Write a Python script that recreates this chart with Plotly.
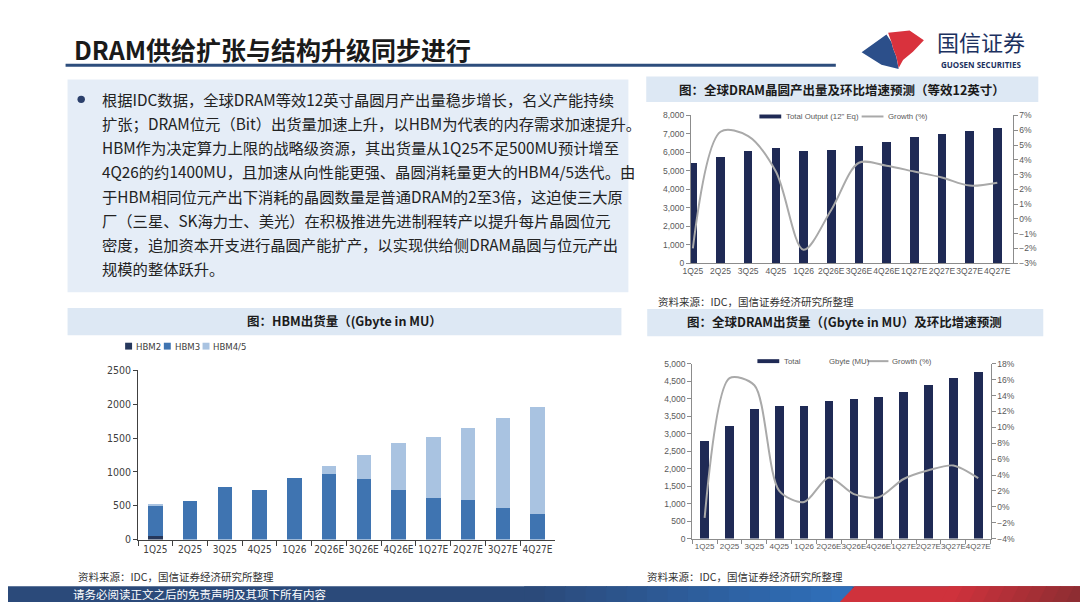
import plotly.graph_objects as go

W, H = 1080, 608

# ---- data ----
quarters = ["1Q25", "2Q25", "3Q25", "4Q25", "1Q26", "2Q26E",
            "3Q26E", "4Q26E", "1Q27E", "2Q27E", "3Q27E", "4Q27E"]

# global DRAM wafer output (12" eq) and QoQ growth %
wafer_output = [5430, 5730, 6050, 6230, 6100, 6140, 6370, 6580, 6810, 6990, 7170, 7340]
wafer_growth = [-2.0, 5.9, 5.6, 3.2, -2.1, 0.6, 3.8, 3.6, 3.2, 2.8, 2.25, 2.45]

# HBM shipments (Gbyte in MU)
hbm2 = [48, 0, 0, 0, 0, 0, 0, 0, 0, 0, 0, 0]
hbm3 = [449, 569, 777, 738, 907, 975, 888, 729, 618, 584, 473, 376]
hbm45 = [12, 0, 0, 0, 0, 111, 362, 695, 893, 1071, 1327, 1583]

# global DRAM shipments (Gbyte in MU) and QoQ growth %
dram_gb = [2780, 3210, 3700, 3790, 3790, 3930, 3980, 4050, 4180, 4380, 4600, 4770]
dram_growth = [-1.4, 16.2, 15.3, 2.0, 0.6, 3.7, 1.6, 1.2, 3.5, 4.6, 5.2, 3.6]

hbm_names = ["HBM2", "HBM3", "HBM4/5"]
wafer_names = ['Total Output (12" Eq)', "Growth (%)"]
dram_names = ["Total", "Gbyte (MU)", "Growth (%)"]

slide_title = "DRAM供给扩张与结构升级同步进行"
body_lines = [
    "根据IDC数据，全球DRAM等效12英寸晶圆月产出量稳步增长，名义产能持续",
    "扩张；DRAM位元（Bit）出货量加速上升，以HBM为代表的内存需求加速提升。",
    "HBM作为决定算力上限的战略级资源，其出货量从1Q25不足500MU预计增至",
    "4Q26的约1400MU，且加速从向性能更强、晶圆消耗量更大的HBM4/5迭代。由",
    "于HBM相同位元产出下消耗的晶圆数量是普通DRAM的2至3倍，这迫使三大原",
    "厂（三星、SK海力士、美光）在积极推进先进制程转产以提升每片晶圆位元",
    "密度，追加资本开支进行晶圆产能扩产，以实现供给侧DRAM晶圆与位元产出",
    "规模的整体跃升。",
]
title_wafer = "图：全球DRAM晶圆产出量及环比增速预测（等效12英寸）"
title_hbm = "图：HBM出货量（(Gbyte in MU）"
title_dram = "图：全球DRAM出货量（(Gbyte in MU）及环比增速预测"
source_note = "资料来源：IDC，国信证券经济研究所整理"
footer_note = "请务必阅读正文之后的免责声明及其项下所有内容"


def px(x):
    return x / W


def py(y):
    return 1 - y / H


CJK = "Noto Sans CJK SC"
NUM = "Liberation Sans, Arial, sans-serif"
NARROW = "Liberation Sans Narrow, DejaVu Sans Condensed, Liberation Sans, sans-serif"
NAVY = "#1f2a55"
GREY_LINE = "#a9a9a9"
TICK = "#595959"
AXIS = "#8c8c8c"
HBM_COLORS = ["#26385c", "#3f74b1", "#a9c3e1"]

fig = go.Figure()

# top right: wafer output
fig.add_trace(go.Bar(x=quarters, y=wafer_output, name=wafer_names[0],
                     marker=dict(color=NAVY, line=dict(width=0)), width=0.31,
                     xaxis="x", yaxis="y"))
fig.add_trace(go.Scatter(x=quarters, y=wafer_growth, name=wafer_names[1], mode="lines",
                         line=dict(color=GREY_LINE, width=2, shape="spline", smoothing=0.9),
                         xaxis="x", yaxis="y2"))

# bottom left: HBM stacked
for vals, name, col in zip([hbm2, hbm3, hbm45], hbm_names, HBM_COLORS):
    fig.add_trace(go.Bar(x=quarters, y=vals, name=name,
                         marker=dict(color=col, line=dict(width=0)), width=0.42,
                         xaxis="x2", yaxis="y3"))

# bottom right: DRAM shipments
fig.add_trace(go.Bar(x=quarters, y=dram_gb, name=dram_names[0],
                     marker=dict(color=NAVY, line=dict(width=0)), width=0.35,
                     xaxis="x3", yaxis="y4"))
fig.add_trace(go.Scatter(x=quarters, y=dram_growth, name=dram_names[2], mode="lines",
                         line=dict(color=GREY_LINE, width=2, shape="spline", smoothing=0.8),
                         xaxis="x3", yaxis="y5"))

ax = dict(showgrid=False, zeroline=False, showline=True, linecolor=AXIS, linewidth=1,
          ticks="outside", tickcolor=AXIS, ticklen=4,
          tickfont=dict(family=NUM, size=8.5, color=TICK))

fig.update_layout(
    width=W, height=H, margin=dict(l=0, r=0, t=0, b=0),
    paper_bgcolor="white", plot_bgcolor="rgba(0,0,0,0)",
    barmode="stack", font=dict(family=CJK), showlegend=False,
    xaxis=dict(ax, domain=[px(688), px(1012)], anchor="y", type="category",
               range=[-0.07, 11.55], ticks="", tickangle=0),
    yaxis=dict(ax, domain=[py(262.3), py(111.7)], anchor="x", range=[0, 8000],
               dtick=1000, tickformat=","),
    yaxis2=dict(ax, overlaying="y", side="right", anchor="x", range=[-3, 7],
                dtick=1, ticksuffix="%"),
    xaxis2=dict(ax, domain=[px(131), px(551)], anchor="y3", type="category",
                range=[-0.5, 11.5], tickson="boundaries", ticklen=5, tickangle=0,
                linecolor="#404040", tickcolor="#404040",
                tickfont=dict(family=NARROW, size=10, color="#404040")),
    yaxis3=dict(ax, domain=[py(544.3), py(371.7)], anchor="x2", range=[0, 2500],
                dtick=500, linecolor="#404040", tickcolor="#404040",
                tickfont=dict(family=NARROW, size=10.5, color="#404040")),
    xaxis3=dict(ax, domain=[px(689.3), px(990)], anchor="y4", type="category",
                range=[-0.5, 11.5], tickson="boundaries", tickangle=0,
                tickfont=dict(family=NUM, size=8, color=TICK)),
    yaxis4=dict(ax, domain=[py(543.3), py(365)], anchor="x3", range=[0, 5000],
                dtick=500, tickformat=","),
    yaxis5=dict(ax, overlaying="y4", side="right", anchor="x3", range=[-4, 18],
                dtick=2, ticksuffix="%"),
)

shapes = []
annotations = []


def rect(x0, y0, x1, y1, color, layer="below"):
    shapes.append(dict(type="rect", xref="paper", yref="paper", x0=px(x0), x1=px(x1),
                       y0=py(y1), y1=py(y0), fillcolor=color, line=dict(width=0), layer=layer))


def poly(points, color):
    path = "M " + " L ".join(f"{px(a):.5f},{py(b):.5f}" for a, b in points) + " Z"
    shapes.append(dict(type="path", xref="paper", yref="paper", path=path,
                       fillcolor=color, line=dict(width=0), layer="above"))


def hline(x0, x1, y, color, width):
    shapes.append(dict(type="line", xref="paper", yref="paper", x0=px(x0), x1=px(x1),
                       y0=py(y), y1=py(y), line=dict(color=color, width=width)))


def text(x, y, s, size, color="#1a1a1a", anchor="left", family=CJK):
    annotations.append(dict(xref="paper", yref="paper", x=px(x), y=py(y), text=s,
                            showarrow=False, xanchor=anchor, yanchor="middle",
                            font=dict(family=family, size=size, color=color)))


# title underline
hline(58, 834, 60.5, "#2d4d7c", 3)
# text box and chart title bars
rect(60, 75, 625, 292, "#e5edf7")
rect(60, 308, 618, 336, "#dde8f4")
rect(643, 72, 1038, 98, "#dde8f4")
rect(644, 309, 1043, 337, "#dde8f4")
# bullet
shapes.append(dict(type="circle", xref="paper", yref="paper", x0=px(70), x1=px(77.5),
                   y0=py(99), y1=py(91.5), fillcolor="#2b3f6b", line=dict(width=0)))

# legends (drawn like the Excel originals)
rect(757, 110.7, 779, 114.7, NAVY, layer="above")
text(782, 112.7, wafer_names[0], 7.8, TICK, family=NUM)
hline(860, 882, 112.7, GREY_LINE, 2)
text(885, 112.7, wafer_names[1], 7.8, TICK, family=NUM)

for i, (name, col) in enumerate(zip(hbm_names, HBM_COLORS)):
    x0 = 118 + i * 39
    rect(x0, 343.5, x0 + 7, 350.5, col, layer="above")
    text(x0 + 9, 347, name, 9.5, "#404040", family=NARROW)

rect(755, 360.3, 777, 364.3, NAVY, layer="above")
text(780, 362.3, dram_names[0], 7.8, TICK, family=NUM)
text(825, 362.3, dram_names[1], 7.8, TICK, family=NUM)
hline(866, 887, 362.3, GREY_LINE, 2)
text(889, 362.3, dram_names[2], 7.8, TICK, family=NUM)

# footer band with a rough gradient
rect(0, 592, 1080, 608, "#2b4a7a", layer="above")


def mix(c1, c2, t):
    a = [int(c1[i:i + 2], 16) for i in (1, 3, 5)]
    b = [int(c2[i:i + 2], 16) for i in (1, 3, 5)]
    return "#" + "".join(f"{round(p + (q - p) * t):02x}" for p, q in zip(a, b))


steps = 16
for i in range(steps):
    x0 = 520 + i * (330 / steps)
    rect(x0, 592, x0 + 330 / steps + 1, 608, mix("#2b4a7a", "#2f6fba", i / (steps - 1)), layer="above")
poly([(838, 608), (853, 592), (1080, 592), (1080, 608)], "#cf323c")
for i in range(10):
    x0 = 940 + i * 14
    poly([(x0, 608), (x0 + 8, 592), (x0 + 23, 592), (x0 + 15, 608)],
         mix("#cf323c", "#8e2d32", i / 9))
poly([(1080, 608), (1080, 592), (1088, 592), (1088, 608)], "#8e2d32")

# logo
poly([(860, 47.3), (885, 29), (890, 36.7), (891.7, 43.3), (895, 51.7), (897.3, 64.3),
      (880, 60)], "#2c4f8a")
poly([(886.7, 27.3), (908.3, 25), (922.7, 35), (911.7, 46.7), (901.7, 55), (897.3, 63.3),
      (895, 51.7), (891.7, 43.3), (890, 36.7)], "#d9323d")

text(64, 44, f"<b>{slide_title}</b>", 25)
for i, line in enumerate(body_lines):
    text(93, 95 + i * 24.6, line, 15.3, color="#222222")
text(840, 85, f"<b>{title_wafer}</b>", 12.5, anchor="center")
text(339, 321, f"<b>{title_hbm}</b>", 12.5, anchor="center")
text(843, 322, f"<b>{title_dram}</b>", 12.5, anchor="center")
text(653, 301, source_note, 10.5, color="#333333")
text(69, 582, source_note, 10.5, color="#333333")
text(642, 582, source_note, 10.5, color="#333333")
text(63, 600, footer_note, 11.5, color="white")
text(980, 36, "国信证券", 22, color="#1c3160", anchor="center")
text(980, 59.5, "<b>GUOSEN SECURITIES</b>", 8, color="#1c3160", anchor="center",
     family="Open Sans, Liberation Sans, sans-serif")

fig.update_layout(shapes=shapes, annotations=annotations)

fig.write_html("out.html", config={"displayModeBar": False},
               post_script="document.body.style.margin='0';"
                           "document.body.style.overflow='hidden';")
